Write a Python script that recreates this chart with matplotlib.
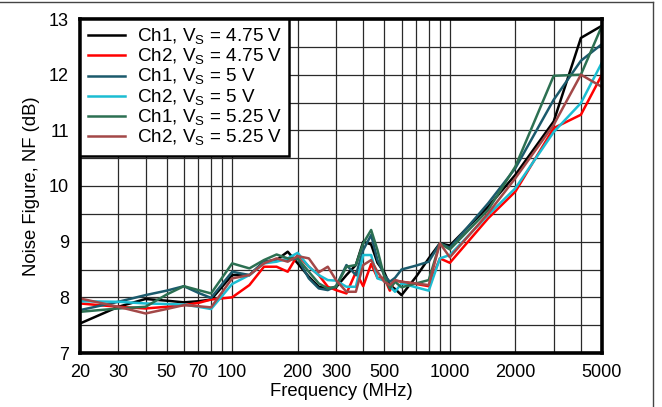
# Noise figure versus frequency, six supply/channel combinations
import matplotlib
matplotlib.use("Agg")
import matplotlib.pyplot as plt
from matplotlib.lines import Line2D
from matplotlib.ticker import FixedLocator, NullFormatter

plt.rcParams['font.family'] = ['Liberation Sans', 'DejaVu Sans']
plt.rcParams['mathtext.fontset'] = 'custom'
plt.rcParams['mathtext.rm'] = 'Liberation Sans'

freq = [20, 30, 40, 50, 60, 70, 80, 100, 120, 140, 160, 180, 200, 225, 250, 275,
        300, 335, 370, 400, 435, 465, 500, 530, 560, 600, 700, 800, 900, 1000,
        1500, 2000, 3000, 4000, 5000]

ch1_475 = [7.53, 7.83, 7.97, 7.94, 7.91, 7.93, 7.96, 8.40, 8.40, 8.64, 8.67, 8.82, 8.61, 8.37, 8.19, 8.16,
           8.18, 8.40, 8.58, 9.00, 8.95, 8.62, 8.45, 8.22, 8.15, 8.04, 8.37, 8.70, 8.97, 8.93,
           9.63, 10.20, 11.16, 12.66, 12.88]
ch2_475 = [7.89, 7.83, 7.80, 7.83, 7.86, 7.90, 7.96, 8.00, 8.22, 8.55, 8.55, 8.46, 8.76, 8.55, 8.40, 8.19,
           8.13, 8.07, 8.45, 8.20, 8.60, 8.35, 8.35, 8.12, 8.30, 8.28, 8.24, 8.20, 8.70, 8.62,
           9.42, 9.90, 11.04, 11.28, 12.00]
ch1_5 = [7.77, 7.92, 8.04, 8.12, 8.20, 8.08, 7.99, 8.46, 8.40, 8.64, 8.67, 8.67, 8.70, 8.34, 8.16, 8.13,
         8.20, 8.58, 8.40, 8.85, 9.12, 8.67, 8.40, 8.28, 8.35, 8.50, 8.57, 8.64, 8.97, 8.89,
         9.69, 10.32, 11.55, 12.25, 12.55]
ch2_5 = [7.93, 7.92, 7.89, 7.88, 7.87, 7.83, 7.79, 8.24, 8.40, 8.61, 8.64, 8.70, 8.80, 8.55, 8.40, 8.31,
         8.30, 8.19, 8.19, 8.76, 8.76, 8.34, 8.30, 8.20, 8.10, 8.25, 8.18, 8.12, 8.70, 8.76,
         9.48, 9.96, 10.97, 11.49, 12.22]
ch1_525 = [7.74, 7.80, 7.83, 8.05, 8.20, 8.13, 8.07, 8.61, 8.52, 8.67, 8.77, 8.70, 8.70, 8.46, 8.25, 8.16,
           8.19, 8.55, 8.58, 8.97, 9.21, 8.85, 8.37, 8.16, 8.28, 8.18, 8.25, 8.31, 8.97, 8.86,
           9.57, 10.35, 11.98, 12.00, 12.88]
ch2_525 = [7.98, 7.83, 7.71, 7.79, 7.86, 7.84, 7.82, 8.34, 8.40, 8.61, 8.70, 8.64, 8.74, 8.70, 8.45, 8.55,
           8.31, 8.10, 8.10, 8.58, 8.67, 8.46, 8.28, 8.22, 8.31, 8.28, 8.25, 8.22, 8.97, 8.72,
           9.51, 10.14, 11.10, 12.00, 11.78]

labels = [r'Ch1, V$_\mathregular{S}$ = 4.75 V', r'Ch2, V$_\mathregular{S}$ = 4.75 V',
          r'Ch1, V$_\mathregular{S}$ = 5 V', r'Ch2, V$_\mathregular{S}$ = 5 V',
          r'Ch1, V$_\mathregular{S}$ = 5.25 V', r'Ch2, V$_\mathregular{S}$ = 5.25 V']
colors = ['#000000', '#ff0000', '#1b5a6c', '#1cbdd2', '#2c7052', '#a34848']
xticks = [20, 30, 50, 70, 100, 200, 300, 500, 1000, 2000, 5000]

fig = plt.figure(figsize=(6.62, 4.07), dpi=100)
ax = fig.add_axes([80 / 662, 1 - 353 / 407, 522 / 662, 334 / 407])

series = [ch1_475, ch2_475, ch1_5, ch2_5, ch1_525, ch2_525]
for vals, lab, col in zip(series, labels, colors):
    ax.plot(freq, vals, color=col, lw=1.8, label=lab)

ax.set_xscale('log')
ax.set_xlim(20, 5000)
ax.set_ylim(7, 13)

grid_x = list(range(20, 100, 10)) + list(range(100, 1000, 100)) + list(range(1000, 5001, 1000))
ax.xaxis.set_major_locator(FixedLocator(xticks))
ax.xaxis.set_minor_locator(FixedLocator(grid_x))
ax.xaxis.set_minor_formatter(NullFormatter())
ax.set_xticklabels([str(t) for t in xticks])
ax.set_yticks([7, 8, 9, 10, 11, 12, 13])
ax.set_yticks([7.5, 8.5, 9.5, 10.5, 11.5, 12.5], minor=True)
ax.grid(True, which='both', color='#2a2a2a', lw=0.9)
ax.set_axisbelow(True)
ax.tick_params(which='both', length=0, labelsize=13, pad=8)

for s in ax.spines.values():
    s.set_linewidth(2.6)

ax.set_xlabel('Frequency (MHz)', fontsize=13.3, labelpad=1)
ax.set_ylabel('Noise Figure, NF (dB)', fontsize=13.3, labelpad=6)

leg = ax.legend(loc='upper left', bbox_to_anchor=(0, 1), borderaxespad=0,
                fontsize=13.6, fancybox=False, framealpha=1, edgecolor='black',
                handlelength=2.0, labelspacing=0.0, borderpad=0.4, handletextpad=0.6)
leg.get_frame().set_linewidth(1.8)

# thin border around the figure (top and right are visible)
fig.add_artist(Line2D([0, 653 / 662], [1 - 2 / 407, 1 - 2 / 407], color='#444444', lw=1))
fig.add_artist(Line2D([653 / 662, 653 / 662], [0, 1 - 2 / 407], color='#444444', lw=1))

fig.savefig('out.png', dpi=100)
